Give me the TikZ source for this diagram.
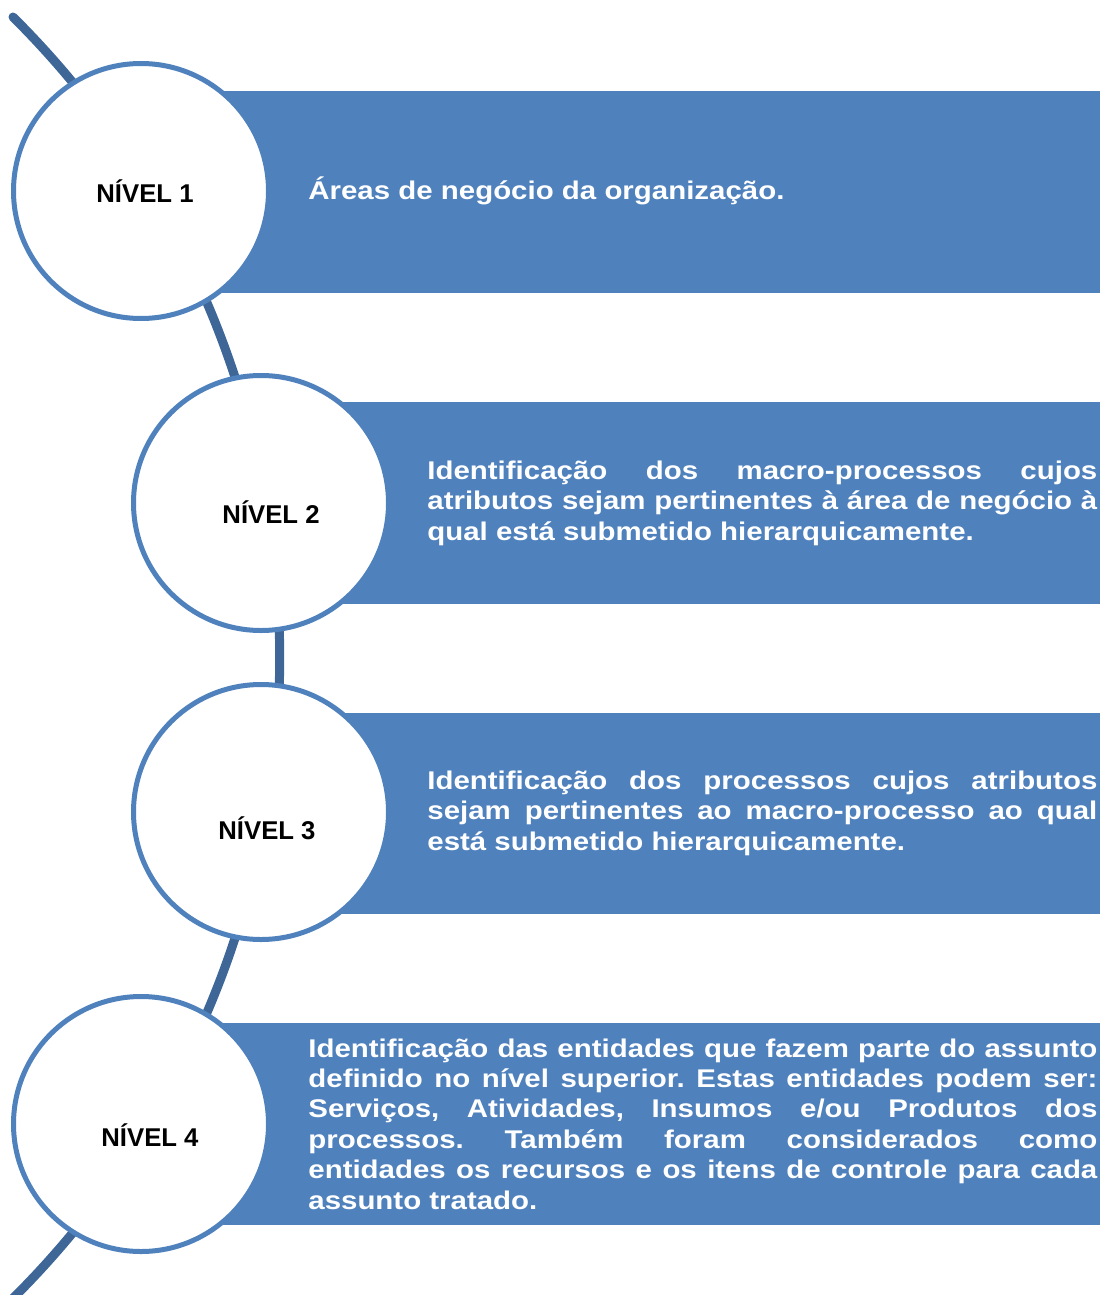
\documentclass[tikz,border=0pt]{standalone}
\usepackage{fontspec}
\setmainfont{Liberation Sans}
\newfontfamily\bartext{Liberation Sans}[FakeStretch=1.15]
\usetikzlibrary{shapes}
\definecolor{levelblue}{RGB}{79,129,189}
\definecolor{arcblue}{RGB}{62,102,151}
\newcommand{\barfont}{\bartext\bfseries\fontsize{12.8}{15.2}\selectfont\frenchspacing\hyphenpenalty=10000\relax\tolerance=10000\relax}

\begin{document}
\begin{tikzpicture}[x=0.5pt, y=-0.5pt,
    levelcircle/.style={draw=levelblue, line width=2.5pt, fill=white, circle, minimum size=127.5pt, inner sep=0pt},
    levellabel/.style={font=\bfseries\fontsize{12.85}{15}\selectfont},
    bartxt/.style={anchor=west, inner sep=0pt, text=white, align=justify, font=\barfont}]
				% Fix picture size
				\useasboundingbox (0,0) rectangle (1101,1295);
				
				% Draw connecting arc
				\draw[line width=4.5pt, arcblue, line cap=round] (13,17) arc[start angle=-45.2, end angle=45.2, radius=902.9];
				
				% Draw level bars
				\fill[levelblue] (141,91) rectangle (1100,293);
				\fill[levelblue] (261,402) rectangle (1100,604);
				\fill[levelblue] (261,713) rectangle (1100,914);
				\fill[levelblue] (141,1023) rectangle (1100,1225);
				
				% Bar texts
				\node[bartxt] (txt1) at (308,191) {Áreas de negócio da organização.};
				\node[bartxt, text width=335pt] (txt2) at (427,503) {Identificação dos macro-processos cujos\linebreak atributos sejam pertinentes à área de negócio à\linebreak qual está submetido hierarquicamente.};
				\node[bartxt, text width=335pt] (txt3) at (427,813) {Identificação dos processos cujos atributos\linebreak sejam pertinentes ao macro-processo ao qual\linebreak está submetido hierarquicamente.};
				\node[bartxt, text width=394.5pt] (txt4) at (308,1124) {Identificação das entidades que fazem parte do assunto\linebreak definido no nível superior. Estas entidades podem ser:\linebreak Serviços, Atividades, Insumos e/ou Produtos dos\linebreak processos. Também foram considerados como\linebreak entidades os recursos e os itens de controle para cada\linebreak assunto tratado.};
				
				% Draw level circles
				\node[levelcircle] (circ1) at (141,191) {};
				\node[levelcircle] (circ2) at (261,503) {};
				\node[levelcircle] (circ3) at (261,812) {};
				\node[levelcircle] (circ4) at (141,1124) {};
				
				% Level labels
				\node[levellabel] (lbl1) at (145,191) {NÍVEL 1};
				\node[levellabel] (lbl2) at (271,512) {NÍVEL 2};
				\node[levellabel] (lbl3) at (267,828) {NÍVEL 3};
				\node[levellabel] (lbl4) at (150,1135) {NÍVEL 4};
			\end{tikzpicture}
\end{document}
